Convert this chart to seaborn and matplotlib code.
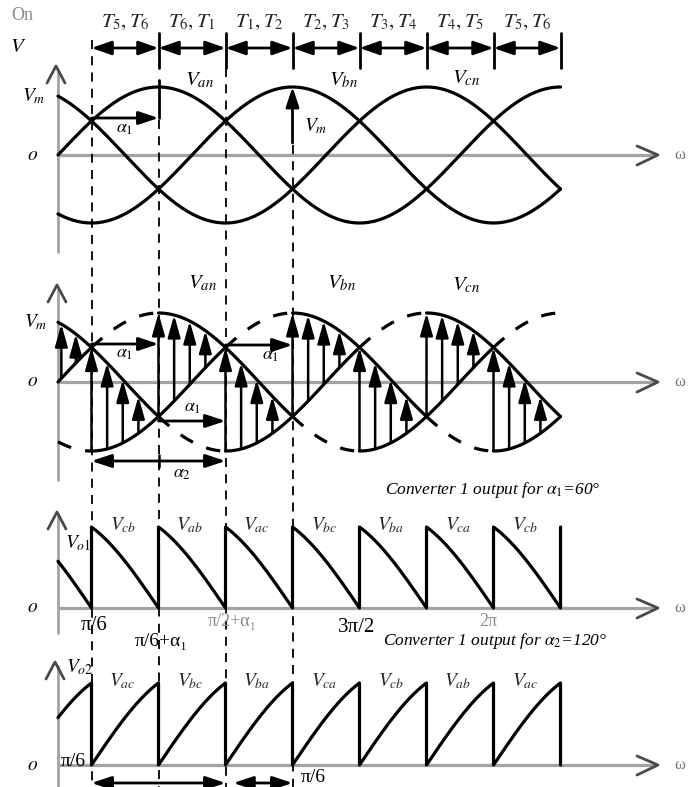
import numpy as np
import pandas as pd
import matplotlib
matplotlib.use("Agg")
import matplotlib.pyplot as plt
from matplotlib.patches import FancyArrowPatch
import seaborn as sns

# ---------------- circuit data ----------------
phase_names = ["an", "bn", "cn"]
phase_shift_deg = [0, -120, 120]            # V = Vm sin(wt + shift)
alpha_1 = 60                                 # converter 1 firing angle (deg)
alpha_2 = 120                                # converter 2 firing angle (deg)
wt_end = 450                                 # last angle drawn (deg)
commutation_deg = [30, 90, 150, 210, 270, 330, 390, 450]
thyristor_pairs = ["5,6", "6,1", "1,2", "2,3", "3,4", "4,5", "5,6"]
out1_labels = ["cb", "ab", "ac", "bc", "ba", "ca", "cb"]
out2_labels = ["ac", "bc", "ba", "ca", "cb", "ab", "ac"]

# ---------------- layout ----------------
W, H = 700, 787
X0, PX_PER_DEG = 58, 1.1167
BASE = {1: 155, 2: 382, 3: 608, 4: 765}       # zero line of each trace (pixel row)
AMP = {1: 68, 2: 69, 3: 54, 4: 54.7}         # pixels per Vm
AXIS_GREY = "#a3a3a3"
ARROW_GREY = "#4a4a4a"


def th(xp):
    return (xp - X0) / PX_PER_DEG


def phase_v(theta, i):
    return np.sin(np.radians(np.asarray(theta, dtype=float) + phase_shift_deg[i]))


def conducting(theta_mid, alpha, group):
    base = 30 if group == "pos" else 210
    for i, s in enumerate(phase_shift_deg):
        if (theta_mid - (base - s + alpha)) % 360 < 120:
            return i


def solid_intervals(i, alpha):
    out = []
    for base in (30, 210):
        for k in range(-2, 3):
            a = base - phase_shift_deg[i] + alpha + 360 * k
            lo, hi = max(a, 0), min(a + 120, wt_end)
            if hi > lo:
                out.append((lo, hi))
    return sorted(out)


def bridge_output(alpha, sign):
    th_all, v_all = [], []
    edges = [0] + commutation_deg
    for a, b in zip(edges[:-1], edges[1:]):
        mid = 0.5 * (a + b)
        ip, ineg = conducting(mid, alpha, "pos"), conducting(mid, alpha, "neg")
        t = np.linspace(a, b, 60)
        th_all.append(t)
        v_all.append(sign * (phase_v(t, ip) - phase_v(t, ineg)))
    ip, ineg = conducting(wt_end + 20, alpha, "pos"), conducting(wt_end + 20, alpha, "neg")
    th_all.append(np.array([wt_end]))
    v_all.append(sign * (phase_v([wt_end], ip) - phase_v([wt_end], ineg)))
    return np.concatenate(th_all), np.concatenate(v_all)


# ---------------- build line table ----------------
rows = []
seg = [0]


def add_segment(theta, value, panel, kind):
    for t, v in zip(theta, value):
        rows.append((seg[0], t, BASE[panel] - AMP[panel] * v, kind))
    seg[0] += 1


# trace 1: the three phase voltages
for i in range(3):
    t = np.linspace(0, wt_end, 400)
    add_segment(t, phase_v(t, i), 1, "solid")

# trace 2: conducting parts solid, the rest dashed
for i in range(3):
    sol = solid_intervals(i, alpha_1)
    cur = 0
    for lo, hi in sol:
        if lo > cur:
            t = np.linspace(cur, lo, 80)
            add_segment(t, phase_v(t, i), 2, "dashed")
        t = np.linspace(lo, hi, 120)
        add_segment(t, phase_v(t, i), 2, "solid")
        cur = hi
    if cur < wt_end:
        t = np.linspace(cur, wt_end, 80)
        add_segment(t, phase_v(t, i), 2, "dashed")

# traces 3 and 4: converter outputs
t3, v3 = bridge_output(alpha_1, +1)
add_segment(t3, v3, 3, "solid")
t4, v4 = bridge_output(alpha_2, -1)
add_segment(t4, v4, 4, "solid")

df = pd.DataFrame(rows, columns=["seg", "theta", "y", "kind"])

# ---------------- figure ----------------
sns.set_style("white")
plt.rcParams["font.family"] = ["Liberation Serif", "DejaVu Serif"]
plt.rcParams["mathtext.fontset"] = "stix"

fig = plt.figure(figsize=(W / 100, H / 100), dpi=100)
ax = fig.add_axes([0, 0, 1, 1])


def vline_dashed(theta, y1, y2):
    ax.plot([theta, theta], [y1, y2], color="black", lw=1.3,
            ls=(0, (5, 4)), zorder=1)


def arrow(x1, y1, x2, y2, style="-|>", lw=2.0, hl=1.2, hw=0.4, z=4):
    ax.add_patch(FancyArrowPatch((x1, y1), (x2, y2),
                                 arrowstyle=f"{style},head_length={hl},head_width={hw}",
                                 mutation_scale=10, lw=lw, color="black",
                                 shrinkA=0, shrinkB=0, zorder=z))


def label(xp, yp, s, size=14, color="black", **kw):
    ax.text(th(xp), yp, s, ha=kw.pop("ha", "center"), va=kw.pop("va", "center"),
            fontsize=size, color=color, **kw)


# axes of each trace
y_axis_span = {1: (70, 252), 2: (290, 480), 3: (516, 633), 4: (666, 787)}
chevron_apex = {1: (56, 66), 2: (57, 285), 3: (57, 512), 4: (55, 662)}
for p in (1, 2, 3, 4):
    y0 = BASE[p]
    ax.plot([th(58), th(655)], [y0, y0], color=AXIS_GREY, lw=2.3, zorder=1,
            solid_capstyle="butt")
    ax.plot([th(58), th(58)], y_axis_span[p], color=AXIS_GREY, lw=2.0, zorder=1)
    ax.plot([th(637), th(658), th(637)], [y0 - 9, y0, y0 + 10],
            color=ARROW_GREY, lw=2.0, zorder=2)
    cx, cy = chevron_apex[p]
    ax.plot([th(cx - 9), th(cx), th(cx + 9)], [cy + 17, cy, cy + 17],
            color=ARROW_GREY, lw=2.0, zorder=2)
    label(680, y0, "ω", size=12, color="#777777")

# commutation guide lines
vline_dashed(30, 40, 787)
vline_dashed(90, 120, 787)
vline_dashed(150, 68, 787)
vline_dashed(210, 145, 787)

# waveforms
sns.lineplot(data=df[df.kind == "solid"], x="theta", y="y", units="seg",
             estimator=None, sort=False, color="black", linewidth=2.3,
             legend=False, ax=ax, zorder=3)
sns.lineplot(data=df[df.kind == "dashed"], x="theta", y="y", units="seg",
             estimator=None, sort=False, color="black", linewidth=2.3,
             linestyle=(0, (4.5, 4.5)), legend=False, ax=ax, zorder=3)

# thyristor conduction ruler
for a, b, pair in zip(commutation_deg[:-1], commutation_deg[1:], thyristor_pairs):
    arrow(a, 48, b, 48, style="<|-|>", lw=2.0, hl=1.2, hw=0.42)
    ax.plot([b, b], [33, 68], color="black", lw=2.0, zorder=4)
    p1, p2 = pair.split(",")
    ax.text(0.5 * (a + b), 22, rf"$T_{p1},T_{p2}$", ha="center", va="center",
            fontsize=15)

# trace 1 annotations
arrow(30, 118, 90, 118)
ax.plot([90, 90], [80, 118], color="black", lw=2.0, zorder=4)
arrow(210, 143, 210, BASE[1] - AMP[1])
label(22, 15, "On", size=13, color="#8a8a8a")
label(18, 47, r"$V$", size=15)
label(34, 96, r"$V_m$", size=14)
label(33, 155, r"$o$", size=14)
label(200, 80, r"$V_{an}$", size=15)
label(343, 80, r"$V_{bn}$", size=15)
label(466, 78, r"$V_{cn}$", size=15)
label(125, 128, r"$\alpha_1$", size=13)
label(316, 126, r"$V_m$", size=14)

# trace 2: voltage across the load, drawn as arrows from lower to upper rail
arrow_offsets = [0, 14, 28, 42]
lead_arrows = [3, 16]
arrow_angles = lead_arrows + [b + o for b in commutation_deg[:-1] for o in arrow_offsets]
for a in arrow_angles:
    seg_start = max([c for c in [-30] + commutation_deg if c <= a])
    mid = seg_start + 30
    hi = phase_v([a], conducting(mid, alpha_1, "pos"))[0]
    lo = phase_v([a], conducting(mid, alpha_1, "neg"))[0]
    arrow(a, BASE[2] - AMP[2] * lo, a, BASE[2] - AMP[2] * hi,
          lw=1.8, hl=1.35, hw=0.38)

arrow(30, 344, 90, 344)
arrow(150, 345, 210, 345)
arrow(90, 421, 150, 421)
arrow(30, 461, 150, 461, style="<|-|>")
ax.plot([90, 90], [455, 467], color="black", lw=1.8, zorder=4)
label(36, 322, r"$V_m$", size=14)
label(33, 382, r"$o$", size=14)
label(203, 283, r"$V_{an}$", size=15)
label(341, 283, r"$V_{bn}$", size=15)
label(466, 285, r"$V_{cn}$", size=15)
label(125, 353, r"$\alpha_1$", size=13)
label(271, 355, r"$\alpha_1$", size=13)
label(193, 407, r"$\alpha_1$", size=13)
label(182, 473, r"$\alpha_2$", size=13)
label(385, 490, r"Converter 1 output for $\alpha_1$=60°", size=12.5,
      ha="left", style="italic")

# trace 3 labels
label(78, 543, r"$V_{o1}$", size=14)
label(33, 608, r"$o$", size=14)
for a, b, s in zip(commutation_deg[:-1], commutation_deg[1:], out1_labels):
    ax.text(0.5 * (a + b) - 2, 525, rf"$V_{{{s}}}$", ha="center", va="center",
            fontsize=14)
label(94, 626, "π/6", size=15)
label(161, 641, "π/6+α₁", size=14)
label(232, 622, "π/2+α₁", size=13, color="#8a8a8a")
label(357, 628, "3π/2", size=15)
label(488, 622, "2π", size=13, color="#8a8a8a")
label(383, 641, r"Converter 1 output for $\alpha_2$=120°", size=12.5,
      ha="left", style="italic")

# trace 4 labels
label(80, 667, r"$V_{o2}$", size=14)
label(33, 765, r"$o$", size=14)
for a, b, s in zip(commutation_deg[:-1], commutation_deg[1:], out2_labels):
    ax.text(0.5 * (a + b) - 2, 681, rf"$V_{{{s}}}$", ha="center", va="center",
            fontsize=14)
label(73, 762, "π/6", size=14)
label(313, 777, "π/6", size=14)
arrow(30, 783, 150, 783, style="<|-|>")
arrow(157, 783, 210, 783, style="<|-|>")

ax.set_xlim(th(0), th(W))
ax.set_ylim(H, 0)
ax.axis("off")

fig.savefig("out.png", dpi=100, facecolor="white")
